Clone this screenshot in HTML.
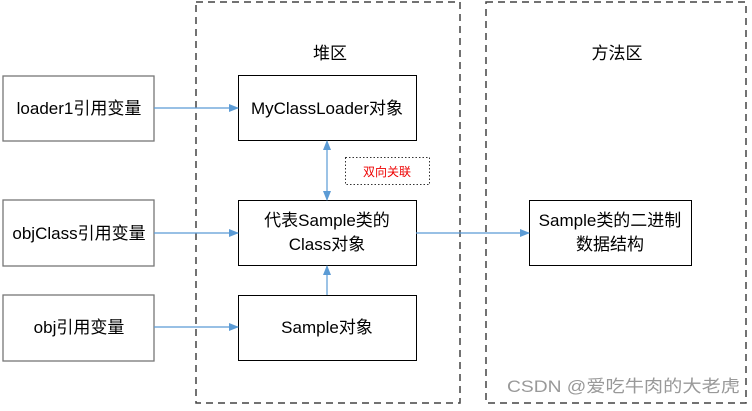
<!DOCTYPE html>
<html><head><meta charset="utf-8"><style>
html,body{margin:0;padding:0;background:#fff;}
svg text{font-family:"Liberation Sans","Noto Sans CJK SC",sans-serif;}
</style></head><body>
<svg width="752" height="406" viewBox="0 0 752 406" xmlns="http://www.w3.org/2000/svg">
<defs>
<marker id="a" markerWidth="10" markerHeight="8" refX="9" refY="4" orient="auto" markerUnits="userSpaceOnUse">
<path d="M0,0 L10,4 L0,8 Z" fill="#5b9bd5"/></marker>
<marker id="b" markerWidth="10" markerHeight="8" refX="9" refY="4" orient="auto-start-reverse" markerUnits="userSpaceOnUse">
<path d="M0,0 L10,4 L0,8 Z" fill="#5b9bd5"/></marker>
</defs>
<rect x="196" y="2" width="264" height="401" fill="none" stroke="#444" stroke-width="1.5" stroke-dasharray="7,5"/>
<rect x="486" y="2" width="260" height="401" fill="none" stroke="#444" stroke-width="1.5" stroke-dasharray="7,5"/>
<g fill="#fff" stroke="#777" stroke-width="1.3">
<rect x="3" y="76" width="151" height="65"/>
<rect x="3" y="200" width="151" height="66"/>
<rect x="3" y="295" width="151" height="66"/>
</g>
<g fill="#fff" stroke="#000" stroke-width="1">
<rect x="238.5" y="75.5" width="178" height="65"/>
<rect x="238.5" y="200.5" width="178" height="65"/>
<rect x="238.5" y="295.5" width="178" height="65"/>
<rect x="529.5" y="200.5" width="162" height="65"/>
</g>
<rect x="345.5" y="157.5" width="84" height="27" fill="none" stroke="#333" stroke-dasharray="1.5,2"/>
<g stroke="#5b9bd5" stroke-width="1.2" fill="none">
<line x1="154" y1="108" x2="238" y2="108" marker-end="url(#a)"/>
<line x1="154" y1="233" x2="238" y2="233" marker-end="url(#a)"/>
<line x1="154" y1="327" x2="238" y2="327" marker-end="url(#a)"/>
<line x1="416" y1="233" x2="529" y2="233" marker-end="url(#a)"/>
<line x1="327" y1="141" x2="327" y2="200" marker-start="url(#b)" marker-end="url(#b)"/>
<line x1="327" y1="295" x2="327" y2="266" marker-end="url(#a)"/>
</g>
<g font-size="17" fill="#000" text-anchor="middle">
<text x="330" y="59">堆区</text>
<text x="617" y="59">方法区</text>
<text x="79" y="114">loader1引用变量</text>
<text x="79" y="239">objClass引用变量</text>
<text x="79" y="333">obj引用变量</text>
<text x="327" y="114">MyClassLoader对象</text>
<text x="327" y="226">代表Sample类的</text>
<text x="327" y="250">Class对象</text>
<text x="327" y="333">Sample对象</text>
<text x="610" y="226">Sample类的二进制</text>
<text x="610" y="250">数据结构</text>
</g>
<text x="387" y="176" font-size="12" fill="#e00" text-anchor="middle">双向关联</text>
<text x="507" y="392" font-size="17" fill="#999" textLength="233" lengthAdjust="spacingAndGlyphs">CSDN @爱吃牛肉的大老虎</text>
</svg>
</body></html>
